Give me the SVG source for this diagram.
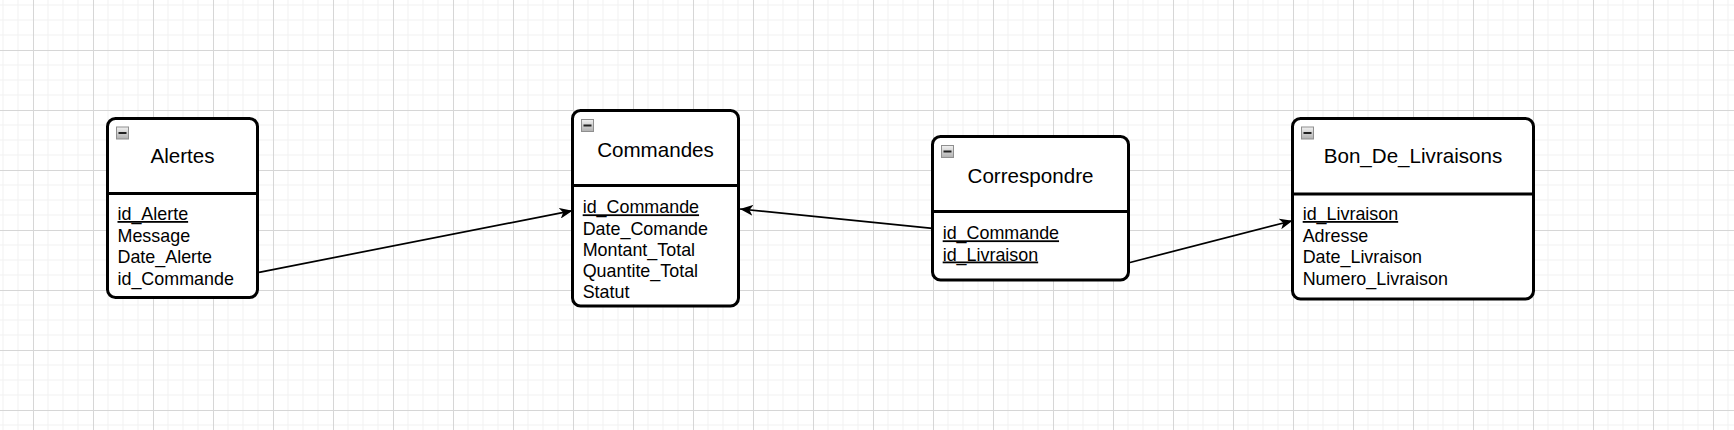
<svg xmlns="http://www.w3.org/2000/svg" width="1734" height="430" viewBox="0 0 1734 430">
  <defs>
    <pattern id="grid" x="33" y="50" width="60" height="60" patternUnits="userSpaceOnUse">
      <path d="M15,0V60M30,0V60M45,0V60M0,15H60M0,30H60M0,45H60" stroke="#f1f1f1" stroke-width="1" fill="none"/>
      <path d="M0.5,0V60M0,0.5H60" stroke="#d6d6d6" stroke-width="1" fill="none"/>
    </pattern>
    <linearGradient id="iconGrad" x1="0" y1="0" x2="0" y2="1">
      <stop offset="0" stop-color="#f2f2f2"/>
      <stop offset="1" stop-color="#b0b0b0"/>
    </linearGradient>
    <marker id="arrow" markerUnits="userSpaceOnUse" markerWidth="13" markerHeight="11" viewBox="0 0 13 11" refX="13" refY="5.5" orient="auto">
      <path d="M0,0 L13,5.5 L0,11 L3.5,5.5 Z" fill="#000"/>
    </marker>
    <g id="icon">
      <rect x="0.5" y="0.5" width="12" height="12" fill="url(#iconGrad)" stroke="#8f8f8f" stroke-width="1"/>
      <rect x="2.5" y="5.5" width="8" height="2" fill="#222"/>
    </g>
  </defs>
  <style>
    .box { fill: #fff; stroke: #000; stroke-width: 3; }
    .div { stroke: #000; stroke-width: 3; }
    .title { font-family: "Liberation Sans", Arial, sans-serif; font-size: 20.6px; fill: #000; text-anchor: middle; }
    .attr { font-family: "Liberation Sans", Arial, sans-serif; font-size: 17.9px; fill: #000; }
    .key { text-decoration: underline; }
    .edge { stroke: #000; stroke-width: 1.7; fill: none; marker-end: url(#arrow); }
  </style>
  <rect width="1734" height="430" fill="#fff"/>
  <rect width="1734" height="430" fill="url(#grid)"/>

  <g id="connectors">
    <line class="edge" x1="259" y1="272.3" x2="572.5" y2="210.7"/>
    <line class="edge" x1="932.5" y1="228.3" x2="740" y2="209"/>
    <line class="edge" x1="1129" y1="262.7" x2="1292.5" y2="220.7"/>
  </g>

  <g id="node-alertes">
    <rect class="box" x="107.5" y="118.5" width="150" height="179" rx="8"/>
    <line class="div" x1="107.5" y1="193.5" x2="257.5" y2="193.5"/>
    <use href="#icon" x="116" y="126.5"/>
    <text class="title" x="182.5" y="163">Alertes</text>
    <text class="attr key" x="117.5" y="220">id_Alerte</text>
    <text class="attr" x="117.5" y="241.7">Message</text>
    <text class="attr" x="117.5" y="263.3">Date_Alerte</text>
    <text class="attr" x="117.5" y="285">id_Commande</text>
  </g>

  <g id="node-commandes">
    <rect class="box" x="572.5" y="110.5" width="166" height="195.5" rx="8"/>
    <line class="div" x1="572.5" y1="185.5" x2="738.5" y2="185.5"/>
    <use href="#icon" x="581" y="119"/>
    <text class="title" x="655.5" y="156.5">Commandes</text>
    <text class="attr key" x="582.7" y="213.3">id_Commande</text>
    <text class="attr" x="582.7" y="234.5">Date_Comande</text>
    <text class="attr" x="582.7" y="255.7">Montant_Total</text>
    <text class="attr" x="582.7" y="277">Quantite_Total</text>
    <text class="attr" x="582.7" y="298.3">Statut</text>
  </g>

  <g id="node-correspondre">
    <rect class="box" x="932.5" y="136.5" width="196" height="143.5" rx="8"/>
    <line class="div" x1="932.5" y1="211.5" x2="1128.5" y2="211.5"/>
    <use href="#icon" x="941" y="145"/>
    <text class="title" x="1030.5" y="183.3">Correspondre</text>
    <text class="attr key" x="942.7" y="239.3">id_Commande</text>
    <text class="attr key" x="942.7" y="260.5">id_Livraison</text>
  </g>

  <g id="node-bon-de-livraisons">
    <rect class="box" x="1292.5" y="118.5" width="241" height="180.5" rx="8"/>
    <line class="div" x1="1292.5" y1="194" x2="1533.5" y2="194"/>
    <use href="#icon" x="1301" y="126.5"/>
    <text class="title" x="1413" y="163.3">Bon_De_Livraisons</text>
    <text class="attr key" x="1302.7" y="220">id_Livraison</text>
    <text class="attr" x="1302.7" y="241.7">Adresse</text>
    <text class="attr" x="1302.7" y="263.3">Date_Livraison</text>
    <text class="attr" x="1302.7" y="285">Numero_Livraison</text>
  </g>
</svg>
